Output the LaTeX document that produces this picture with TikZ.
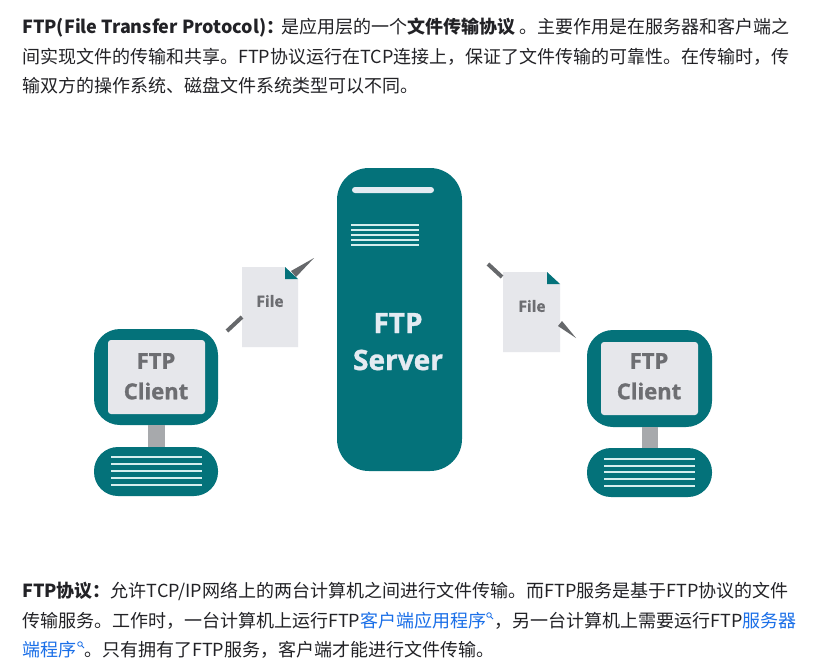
\documentclass[tikz,border=0pt]{standalone}
\usepackage{fontspec}
\setmainfont{Noto Sans CJK SC}
\newfontfamily\figfont[BoldFeatures={FakeBold=1.2}]{Open Sans}
\definecolor{teal1}{HTML}{04727A}
\definecolor{paper}{HTML}{E6E7EB}
\definecolor{gtext}{HTML}{6D6E72}
\definecolor{stub}{HTML}{66686B}
\definecolor{standc}{HTML}{A7A9AC}
\definecolor{bar}{HTML}{E4EBF2}
\definecolor{rulec}{HTML}{D5EEEE}
\definecolor{body}{HTML}{222226}
\definecolor{linkc}{HTML}{1A6FE8}
\tikzset{
  x=1pt,y=-1pt,
  para/.style={anchor=base west,inner sep=0pt,text=body,font=\fontsize{18}{22}\selectfont},
  tealbox/.style={fill=teal1,draw=none},
  fig/.style={inner sep=0pt,font=\figfont\bfseries\fontsize{22}{22}\selectfont,text=gtext},
  figs/.style={inner sep=0pt,font=\figfont\bfseries\fontsize{28}{28}\selectfont,text=bar},
  filet/.style={inner sep=0pt,font=\figfont\bfseries\fontsize{15.5}{15.5}\selectfont,text=gtext},
  rl/.style={draw=rulec,line width=1.9pt},
  stubl/.style={draw=stub,line width=4pt},
  lens/.style={draw=linkc,line width=.8pt}
}
\newcommand{\lnk}[1]{\textcolor{linkc}{#1}}
\begin{document}
\begin{tikzpicture}
\useasboundingbox (0,0) rectangle (826,670);
\fill[white] (0,0) rectangle (826,670);
% top paragraph
\node[para] (t1) at (22,33) {\textbf{FTP(File Transfer Protocol)：}\hspace{-3pt}是应用层的一个\textbf{文件传输协议} 。主要作用是在服务器和客户端之};
\node[para] (t2) at (22,63) {间实现文件的传输和共享。FTP协议运行在TCP连接上，保证了文件传输的可靠性。在传输时，传};
\node[para] (t3) at (22,92) {输双方的操作系统、磁盘文件系统类型可以不同。};
% server
\fill[tealbox,rounded corners=32pt] (337,168) rectangle (462,471);
\fill[bar,rounded corners=3pt] (352,187) rectangle (434,193);
\foreach \y in {225,230,235,240,245} \draw[rl] (351,\y) -- (419,\y);
\node[figs] (srvA) at (398,323) {FTP};
\node[figs] (srvB) at (398,360) {Server};
% left client
\fill[tealbox,rounded corners=26pt] (94,329) rectangle (218,425);
\fill[paper,rounded corners=3pt] (108,340) rectangle (205,414);
\fill[standc] (148,425) rectangle (165,447);
\fill[tealbox,rounded corners=24pt] (94,447) rectangle (218,496);
\foreach \y in {457,464,471,478,485} \draw[rl] (111,\y) -- (202,\y);
\node[fig] (clAa) at (156,361) {FTP};
\node[fig] (clAb) at (156,391) {Client};
% right client
\fill[tealbox,rounded corners=26pt] (587,330) rectangle (712,427);
\fill[paper,rounded corners=3pt] (601,342) rectangle (698,415);
\fill[standc] (642,427) rectangle (658,448);
\fill[tealbox,rounded corners=24pt] (587,448) rectangle (712,497);
\foreach \y in {459,466,472,479,486} \draw[rl] (604,\y) -- (695,\y);
\node[fig] (clBa) at (649,361) {FTP};
\node[fig] (clBb) at (649,391) {Client};
% left file
\fill[paper] (242,267) -- (285,267) -- (298,279) -- (298,347) -- (242,347) -- cycle;
\fill[teal1] (285,267) -- (285,279) -- (298,279) -- cycle;
\node[filet] (fileA) at (270,301) {File};
\coordinate (a1) at (227,331); \coordinate (a2) at (242,317);
\draw[stubl] (a1) -- (a2);
\fill[stub] (291,271) -- (314,258) -- (296,277) -- cycle;
% right file
\fill[paper] (503,272) -- (547,272) -- (560,284) -- (560,352) -- (503,352) -- cycle;
\fill[teal1] (547,272) -- (547,284) -- (560,284) -- cycle;
\node[filet] (fileB) at (532,306) {File};
\coordinate (b1) at (488,264); \coordinate (b2) at (502,277);
\draw[stubl] (b1) -- (b2);
\fill[stub] (558,326) -- (562,321) -- (576,338) -- cycle;
% bottom paragraph
\node[para] (b1t) at (22,597) {\textbf{FTP协议：}允许TCP/IP网络上的两台计算机之间进行文件传输。而FTP服务是基于FTP协议的文件};
\node[para] (b2t) at (22,627) {传输服务。工作时，一台计算机上运行FTP\lnk{客户端应用程序}\hspace{8pt}，另一台计算机上需要运行FTP\lnk{服务器}};
\node[para] (b3t) at (22,656) {\lnk{端程序}\hspace{8pt}。只有拥有了FTP服务，客户端才能进行文件传输。};
% search marks
\draw[lens] (489,615) circle (2.3pt); \draw[lens] (490.7,616.7) -- (493,619);
\draw[lens] (80,644) circle (2.3pt); \draw[lens] (81.7,645.7) -- (84,648);
\end{tikzpicture}
\end{document}
